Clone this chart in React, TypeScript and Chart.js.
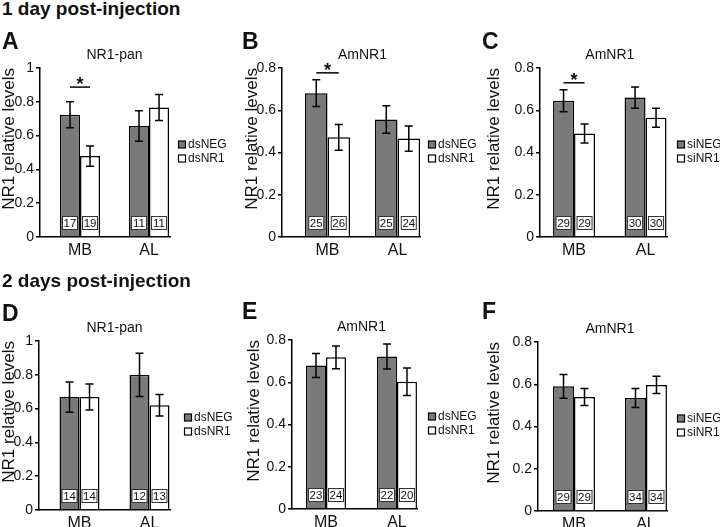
import React, { useEffect, useRef } from "react";
import { Chart, registerables } from "chart.js";

Chart.register(...registerables);

const FONT = "'Liberation Sans', Arial, Helvetica, sans-serif";
const GRAY = "#7a7a7a";
const INK = "#111111";

// ---------- data ----------
const categories = ["MB", "AL"];
const yAxisTitle = "NR1 relative levels";
const rowTitles = ["1 day post-injection", "2 days post-injection"];
const panelLetters = ["A", "B", "C", "D", "E", "F"];
const panelTitles = ["NR1-pan", "AmNR1", "AmNR1", "NR1-pan", "AmNR1", "AmNR1"];
const dsSeries = ["dsNEG", "dsNR1"];
const siSeries = ["siNEG", "siNR1"];
const ticksTo1 = [0, 0.2, 0.4, 0.6, 0.8, 1];
const ticksTo08 = [0, 0.2, 0.4, 0.6, 0.8];
const sigMark = "*";

// A: 1 day, NR1-pan, dsRNA
const aNeg = [0.723, 0.657];
const aNegErr = [0.077, 0.09];
const aNr1 = [0.479, 0.766];
const aNr1Err = [0.06, 0.077];
const aNegN = [17, 11];
const aNr1N = [19, 11];
const aSigY = 0.887;

// B: 1 day, AmNR1, dsRNA
const bNeg = [0.681, 0.556];
const bNegErr = [0.063, 0.065];
const bNr1 = [0.472, 0.466];
const bNr1Err = [0.061, 0.06];
const bNegN = [25, 25];
const bNr1N = [26, 24];
const bSigY = 0.777;

// C: 1 day, AmNR1, siRNA
const cNeg = [0.645, 0.66];
const cNegErr = [0.052, 0.05];
const cNr1 = [0.49, 0.565];
const cNr1Err = [0.045, 0.045];
const cNegN = [29, 30];
const cNr1N = [29, 30];
const cSigY = 0.73;

// D: 2 days, NR1-pan, dsRNA
const dNeg = [0.668, 0.8];
const dNegErr = [0.09, 0.128];
const dNr1 = [0.668, 0.62];
const dNr1Err = [0.077, 0.064];
const dNegN = [14, 12];
const dNr1N = [14, 13];

// E: 2 days, AmNR1, dsRNA
const eNeg = [0.679, 0.722];
const eNegErr = [0.057, 0.059];
const eNr1 = [0.718, 0.602];
const eNr1Err = [0.054, 0.065];
const eNegN = [23, 22];
const eNr1N = [24, 20];

// F: 2 days, AmNR1, siRNA
const fNeg = [0.59, 0.535];
const fNegErr = [0.056, 0.045];
const fNr1 = [0.54, 0.597];
const fNr1Err = [0.04, 0.041];
const fNegN = [29, 34];
const fNr1N = [29, 34];

// ---------- layout (positions only) ----------
type Geo = {
  left: number; top: number; yWidth: number; padTop: number; padRight: number; padBottom: number;
  yTitlePad: number; xMin: number; xMax: number; groupFrac: number; legendX: number;
};
const geoA: Geo = { left: 0, top: 30, yWidth: 40, padTop: 38, padRight: 70, padBottom: 23, yTitlePad: -0.5, xMin: -0.58, xMax: 1.304, groupFrac: 0.58, legendX: 178 };
const geoB: Geo = { left: 240, top: 30, yWidth: 42, padTop: 38, padRight: 60, padBottom: 23, yTitlePad: 2, xMin: -0.65, xMax: 1.321, groupFrac: 0.643, legendX: 428 };
const geoC: Geo = { left: 480, top: 30, yWidth: 60, padTop: 38, padRight: 53, padBottom: 23, yTitlePad: 4.5, xMin: -0.476, xMax: 1.3, groupFrac: 0.587, legendX: 677 };
const geoD: Geo = { left: 0, top: 290, yWidth: 39, padTop: 51, padRight: 70, padBottom: 10, yTitlePad: -1, xMin: -0.579, xMax: 1.293, groupFrac: 0.571, legendX: 184 };
const geoE: Geo = { left: 240, top: 290, yWidth: 52, padTop: 50, padRight: 63, padBottom: 11, yTitlePad: 4, xMin: -0.479, xMax: 1.282, groupFrac: 0.563, legendX: 428 };
const geoF: Geo = { left: 480, top: 290, yWidth: 58, padTop: 52, padRight: 53, padBottom: 9, yTitlePad: 4.5, xMin: -0.5, xMax: 1.292, groupFrac: 0.583, legendX: 677 };

type Panel = {
  title: string; series: string[]; neg: number[]; negErr: number[]; nr1: number[]; nr1Err: number[];
  negN: number[]; nr1N: number[]; yTicks: number[]; sigY: number | null; geo: Geo;
};

const panels: Panel[] = [
  { title: panelTitles[0], series: dsSeries, neg: aNeg, negErr: aNegErr, nr1: aNr1, nr1Err: aNr1Err, negN: aNegN, nr1N: aNr1N, yTicks: ticksTo1, sigY: aSigY, geo: geoA },
  { title: panelTitles[1], series: dsSeries, neg: bNeg, negErr: bNegErr, nr1: bNr1, nr1Err: bNr1Err, negN: bNegN, nr1N: bNr1N, yTicks: ticksTo08, sigY: bSigY, geo: geoB },
  { title: panelTitles[2], series: siSeries, neg: cNeg, negErr: cNegErr, nr1: cNr1, nr1Err: cNr1Err, negN: cNegN, nr1N: cNr1N, yTicks: ticksTo08, sigY: cSigY, geo: geoC },
  { title: panelTitles[3], series: dsSeries, neg: dNeg, negErr: dNegErr, nr1: dNr1, nr1Err: dNr1Err, negN: dNegN, nr1N: dNr1N, yTicks: ticksTo1, sigY: null, geo: geoD },
  { title: panelTitles[4], series: dsSeries, neg: eNeg, negErr: eNegErr, nr1: eNr1, nr1Err: eNr1Err, negN: eNegN, nr1N: eNr1N, yTicks: ticksTo08, sigY: null, geo: geoE },
  { title: panelTitles[5], series: siSeries, neg: fNeg, negErr: fNegErr, nr1: fNr1, nr1Err: fNr1Err, negN: fNegN, nr1N: fNr1N, yTicks: ticksTo08, sigY: null, geo: geoF },
];

const CW = 240;
const CH = 260;

function extrasPlugin(p: Panel) {
  return {
    id: "panelExtras",
    afterDatasetsDraw(chart: any) {
      const ctx: CanvasRenderingContext2D = chart.ctx;
      const ys = chart.scales.y;
      const area = chart.chartArea;
      const metas = [chart.getDatasetMeta(0), chart.getDatasetMeta(1)];
      const vals = [p.neg, p.nr1];
      const errs = [p.negErr, p.nr1Err];
      const ns = [p.negN, p.nr1N];
      ctx.save();
      // error bars
      ctx.strokeStyle = "#000";
      ctx.lineWidth = 1.5;
      metas.forEach((m: any, s: number) => {
        m.data.forEach((el: any, i: number) => {
          const x = el.x;
          const top = ys.getPixelForValue(vals[s][i] + errs[s][i]);
          const bot = ys.getPixelForValue(vals[s][i] - errs[s][i]);
          ctx.beginPath();
          ctx.moveTo(x, top);
          ctx.lineTo(x, bot);
          ctx.moveTo(x - 4, top);
          ctx.lineTo(x + 4, top);
          ctx.moveTo(x - 4, bot);
          ctx.lineTo(x + 4, bot);
          ctx.stroke();
        });
      });
      // n boxes
      ctx.font = `11.5px ${FONT}`;
      ctx.textAlign = "center";
      ctx.textBaseline = "middle";
      metas.forEach((m: any, s: number) => {
        m.data.forEach((el: any, i: number) => {
          const cy = area.bottom - 14;
          const w = 15;
          const h = 13;
          ctx.fillStyle = "#fff";
          ctx.fillRect(el.x - w / 2, cy - h / 2, w, h);
          ctx.strokeStyle = "#333";
          ctx.lineWidth = 1;
          ctx.strokeRect(el.x - w / 2, cy - h / 2, w, h);
          ctx.fillStyle = INK;
          ctx.fillText(String(ns[s][i]), el.x, cy + 0.5);
        });
      });
      // significance
      if (p.sigY !== null) {
        const x1 = metas[0].data[0].x;
        const x2 = metas[1].data[0].x;
        const y = ys.getPixelForValue(p.sigY);
        ctx.strokeStyle = "#000";
        ctx.lineWidth = 1.5;
        ctx.beginPath();
        ctx.moveTo(x1, y);
        ctx.lineTo(x2, y);
        ctx.stroke();
        ctx.fillStyle = INK;
        ctx.font = `bold 18px ${FONT}`;
        ctx.textAlign = "center";
        ctx.textBaseline = "alphabetic";
        ctx.fillText(sigMark, (x1 + x2) / 2, y + 3);
      }
      ctx.restore();
    },
    afterDraw(chart: any) {
      const ctx: CanvasRenderingContext2D = chart.ctx;
      const area = chart.chartArea;
      const m0 = chart.getDatasetMeta(0);
      const m1 = chart.getDatasetMeta(1);
      const first = m0.data[0];
      const last = m1.data[m1.data.length - 1];
      const bl = first.x - first.width / 2;
      const br = last.x + last.width / 2;
      ctx.save();
      ctx.fillStyle = INK;
      ctx.font = `14px ${FONT}`;
      ctx.textAlign = "center";
      ctx.textBaseline = "alphabetic";
      ctx.fillText(p.title, (bl + br) / 2, area.top - 9);
      // legend
      const lx = p.geo.legendX - p.geo.left;
      const cy = (area.top + area.bottom) / 2 - 1;
      p.series.forEach((name, s) => {
        const y = cy + (s - 0.5) * 14;
        ctx.fillStyle = s === 0 ? GRAY : "#fff";
        ctx.fillRect(lx + 0.5, y - 3.5, 7, 7);
        ctx.strokeStyle = "#000";
        ctx.lineWidth = 1.2;
        ctx.strokeRect(lx + 0.5, y - 3.5, 7, 7);
        ctx.fillStyle = INK;
        ctx.font = `12px ${FONT}`;
        ctx.textAlign = "left";
        ctx.textBaseline = "middle";
        ctx.fillText(name, lx + 10, y + 0.5);
      });
      ctx.restore();
    },
  };
}

function buildConfig(p: Panel): any {
  const g = p.geo;
  const yMax = p.yTicks[p.yTicks.length - 1];
  return {
    type: "bar",
    data: {
      datasets: [
        {
          label: p.series[0],
          data: p.neg.map((v, i) => ({ x: i, y: v })),
          backgroundColor: GRAY,
          borderColor: "#000",
          borderWidth: 1.5,
          barPercentage: 1,
          categoryPercentage: g.groupFrac,
        },
        {
          label: p.series[1],
          data: p.nr1.map((v, i) => ({ x: i, y: v })),
          backgroundColor: "#fff",
          borderColor: "#000",
          borderWidth: 1.5,
          barPercentage: 1,
          categoryPercentage: g.groupFrac,
        },
      ],
    },
    options: {
      animation: false,
      responsive: false,
      devicePixelRatio: 1,
      layout: { padding: { left: 0, top: g.padTop, right: g.padRight, bottom: g.padBottom } },
      scales: {
        x: {
          type: "linear",
          min: g.xMin,
          max: g.xMax,
          offset: false,
          afterBuildTicks: (s: any) => {
            s.ticks = categories.map((_, i) => ({ value: i }));
          },
          afterFit: (s: any) => {
            s.height = 30;
          },
          ticks: {
            callback: (_v: any, i: number) => categories[i],
            font: { family: FONT, size: 16 },
            color: INK,
            padding: 4,
            maxRotation: 0,
            autoSkip: false,
          },
          grid: { display: false, drawTicks: false, offset: false },
          border: { display: true, color: "#000", width: 1.5 },
        },
        y: {
          min: 0,
          max: yMax,
          afterBuildTicks: (s: any) => {
            s.ticks = p.yTicks.map((v) => ({ value: v }));
          },
          afterFit: (s: any) => {
            s.width = g.yWidth;
          },
          ticks: {
            callback: (_v: any, i: number) => String(p.yTicks[i]),
            font: { family: FONT, size: 14 },
            color: INK,
            padding: 2,
          },
          grid: { display: true, drawOnChartArea: false, drawTicks: true, tickLength: 4, color: "#000", lineWidth: 1.5 },
          border: { display: true, color: "#000", width: 1.5 },
          title: {
            display: true,
            text: yAxisTitle,
            align: "end",
            color: INK,
            font: { family: FONT, size: 17 },
            padding: { top: g.yTitlePad, bottom: 0 },
          },
        },
      },
      plugins: {
        legend: { display: false },
        tooltip: { enabled: false },
        title: { display: false },
      },
    },
    plugins: [extrasPlugin(p)],
  };
}

function PanelChart({ p }: { p: Panel }) {
  const ref = useRef<HTMLCanvasElement>(null);
  useEffect(() => {
    if (!ref.current) return;
    const chart = new Chart(ref.current, buildConfig(p));
    return () => chart.destroy();
  }, [p]);
  return (
    <canvas
      ref={ref}
      width={CW}
      height={CH}
      style={{ position: "absolute", left: p.geo.left, top: p.geo.top, width: CW, height: CH }}
    />
  );
}

const headingStyle: React.CSSProperties = {
  position: "absolute",
  left: 2,
  fontFamily: FONT,
  fontWeight: "bold",
  fontSize: 19,
  lineHeight: "19px",
  color: INK,
  whiteSpace: "nowrap",
};

const letterStyle: React.CSSProperties = {
  position: "absolute",
  fontFamily: FONT,
  fontWeight: "bold",
  fontSize: 23,
  lineHeight: "23px",
  color: INK,
};

const letterPos = [
  { left: 2, top: 30 },
  { left: 242, top: 30 },
  { left: 482, top: 30 },
  { left: 2, top: 302 },
  { left: 242, top: 300 },
  { left: 482, top: 300 },
];

export default function App() {
  return (
    <div
      style={{
        position: "fixed",
        left: 0,
        top: 0,
        width: 720,
        height: 527,
        overflow: "hidden",
        background: "#fff",
      }}
    >
      {panels.map((p, i) => (
        <PanelChart key={i} p={p} />
      ))}
      <div style={{ ...headingStyle, top: -1 }}>{rowTitles[0]}</div>
      <div style={{ ...headingStyle, top: 271 }}>{rowTitles[1]}</div>
      {panelLetters.map((l, i) => (
        <div key={l} style={{ ...letterStyle, ...letterPos[i] }}>
          {l}
        </div>
      ))}
    </div>
  );
}
